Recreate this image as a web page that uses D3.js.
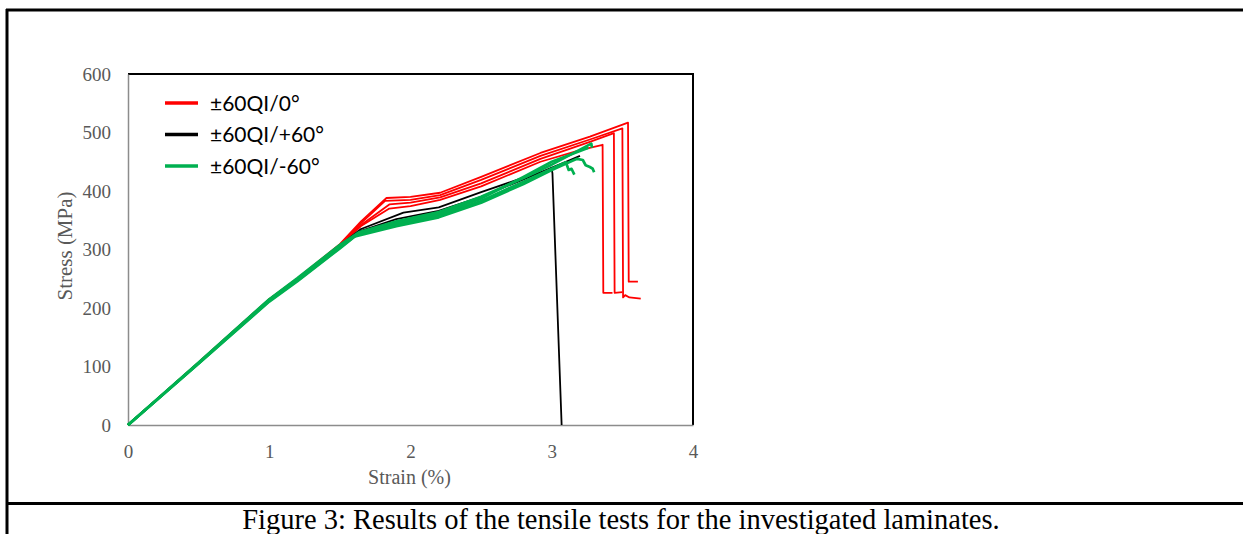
<!DOCTYPE html>
<html>
<head>
<meta charset="utf-8">
<script src="https://cdn.jsdelivr.net/npm/d3@7"></script>
<style>
  body { margin: 0; background: #fff; }
  svg { display: block; }
</style>
</head>
<body>
<div id="chart"></div>
<script>
// strain (%) / stress (MPa), one array per specimen
var red1 = [[0,0],[0.5,107],[1.0,215],[1.2,251],[1.5,309],[1.65,348],[1.83,388],[2.0,390],[2.21,397],[2.5,424],[2.92,465],[3.27,493],[3.54,517],[3.545,245],[3.61,245]];
var red2 = [[0,0],[0.5,107],[1.0,215],[1.2,250],[1.5,308],[1.65,345],[1.82,383],[2.0,385],[2.21,393],[2.5,419],[2.92,460],[3.27,488],[3.50,507],[3.505,218],[3.52,222],[3.55,218],[3.63,216]];
var red3 = [[0,0],[0.5,106],[1.0,214],[1.2,250],[1.5,307],[1.65,342],[1.85,377],[2.0,380],[2.21,389],[2.5,413],[2.92,455],[3.27,484],[3.44,499],[3.445,226],[3.50,227]];
var red4 = [[0,0],[0.5,106],[1.0,214],[1.2,249],[1.5,307],[1.65,340],[1.85,370],[2.0,374],[2.21,385],[2.5,408],[2.92,450],[3.2,470],[3.36,479],[3.365,226],[3.43,226]];

var black1 = [[0,0],[0.5,106],[1.0,214],[1.2,250],[1.5,307],[1.65,335],[1.95,363],[2.2,372],[2.5,398],[2.8,423],[3.0,437],[3.005,430],[3.07,0]];
var black2 = [[0,0],[0.5,106],[1.0,213],[1.2,249],[1.5,306],[1.64,331],[1.9,352],[2.2,366],[2.5,390],[2.8,420],[3.1,450],[3.2,460]];

var green1 = [[0,0],[0.5,107],[1.0,215],[1.2,251],[1.5,308],[1.64,330],[1.9,348],[2.2,364],[2.5,390],[2.8,422],[3.0,445],[3.28,481],[3.285,474]];
var green2 = [[0,0],[0.5,106],[1.0,214],[1.2,249],[1.5,305],[1.62,326],[1.9,343],[2.2,358],[2.5,383],[2.8,416],[3.08,447],[3.1,449],[3.12,436],[3.14,438],[3.16,428]];
var green3 = [[0,0],[0.5,105],[1.0,212],[1.2,247],[1.5,303],[1.6,322],[1.9,340],[2.2,355],[2.5,380],[2.8,412],[3.0,436],[3.15,452],[3.18,455],[3.22,453],[3.24,444],[3.27,441],[3.29,438],[3.3,432]];
var green4 = [[0,0],[0.5,105],[1.0,211],[1.2,246],[1.5,302],[1.63,327],[1.9,345],[2.2,361],[2.5,387],[2.8,424],[3.0,450],[3.26,474]];

var groupNames = ["±60QI/0°", "±60QI/+60°", "±60QI/-60°"];
var groupColors = ["#ff0000", "#000000", "#00b050"];
var xTicks = [0, 1, 2, 3, 4];
var yTicks = [0, 100, 200, 300, 400, 500, 600];
var caption = "Figure 3: Results of the tensile tests for the investigated laminates.";

var specimens = [
  {g: 0, pts: red1}, {g: 0, pts: red2}, {g: 0, pts: red3}, {g: 0, pts: red4},
  {g: 1, pts: black1}, {g: 1, pts: black2},
  {g: 2, pts: green1}, {g: 2, pts: green2}, {g: 2, pts: green3}, {g: 2, pts: green4}
];

var width = 1243, height = 534;
var plot = {left: 128, right: 693, top: 74, bottom: 425};

var svg = d3.select("#chart").append("svg")
  .attr("width", width)
  .attr("height", height);

// page frame lines
svg.append("line").attr("x1", 6).attr("x2", width).attr("y1", 10).attr("y2", 10)
  .attr("stroke", "#000").attr("stroke-width", 3);
svg.append("line").attr("x1", 7).attr("x2", 7).attr("y1", 9).attr("y2", height)
  .attr("stroke", "#000").attr("stroke-width", 3);
svg.append("line").attr("x1", 6).attr("x2", width).attr("y1", 503.5).attr("y2", 503.5)
  .attr("stroke", "#000").attr("stroke-width", 3);

var x = d3.scaleLinear().domain([0, 4]).range([plot.left, plot.right]);
var y = d3.scaleLinear().domain([0, 600]).range([plot.bottom, plot.top]);

// plot area: top/right black, left/bottom grey axes
svg.append("path")
  .attr("d", "M" + x(0) + "," + y(600) + "H" + x(4) + "V" + y(0))
  .attr("fill", "none").attr("stroke", "#000").attr("stroke-width", 2);

var xAxis = svg.append("g")
  .attr("transform", "translate(0," + y(0) + ")")
  .call(d3.axisBottom(x).tickValues(xTicks).tickSize(0).tickPadding(20).tickFormat(d3.format("d")));
var yAxis = svg.append("g")
  .attr("transform", "translate(" + x(0) + ",0)")
  .call(d3.axisLeft(y).tickValues(yTicks).tickSize(0).tickPadding(17).tickFormat(d3.format("d")));

[xAxis, yAxis].forEach(function(a) {
  a.select(".domain").attr("stroke", "#8c8c8c").attr("stroke-width", 1.5);
  a.selectAll("text")
    .attr("fill", "#595959")
    .style("font-family", "'Liberation Serif', 'Times New Roman', serif")
    .style("font-size", "19px");
});

var line = d3.line()
  .x(function(d) { return x(d[0]); })
  .y(function(d) { return y(d[1]); });

svg.append("g").selectAll("path")
  .data(specimens)
  .enter().append("path")
  .attr("d", function(d) { return line(d.pts); })
  .attr("fill", "none")
  .attr("stroke", function(d) { return groupColors[d.g]; })
  .attr("stroke-width", function(d) { return d.g === 2 ? 2.7 : 1.8; })
  .attr("stroke-linejoin", "round");

// legend
var legend = svg.append("g").selectAll("g")
  .data(groupNames)
  .enter().append("g")
  .attr("transform", function(d, i) { return "translate(165," + (103 + i * 31.5) + ")"; });
legend.append("line")
  .attr("x1", 0).attr("x2", 33)
  .attr("stroke", function(d, i) { return groupColors[i]; })
  .attr("stroke-width", 3.5);
legend.append("text")
  .attr("x", 45).attr("y", 7.5)
  .style("font-family", "Lato, 'Liberation Sans', sans-serif")
  .style("font-size", "21px")
  .attr("fill", "#000")
  .text(function(d) { return d; });

// axis titles
svg.append("text")
  .attr("transform", "translate(72,246) rotate(-90)")
  .attr("text-anchor", "middle")
  .attr("fill", "#595959")
  .style("font-family", "'Liberation Serif', 'Times New Roman', serif")
  .style("font-size", "21px")
  .text("Stress (MPa)");
svg.append("text")
  .attr("x", (x(0) + x(4)) / 2 - 1)
  .attr("y", 484)
  .attr("text-anchor", "middle")
  .attr("fill", "#595959")
  .style("font-family", "'Liberation Serif', 'Times New Roman', serif")
  .style("font-size", "20px")
  .text("Strain (%)");

// caption
svg.append("text")
  .attr("x", 621)
  .attr("y", 529)
  .attr("text-anchor", "middle")
  .attr("fill", "#000")
  .style("font-family", "'Liberation Serif', 'Times New Roman', serif")
  .style("font-size", "28.5px")
  .text(caption);
</script>
</body>
</html>
